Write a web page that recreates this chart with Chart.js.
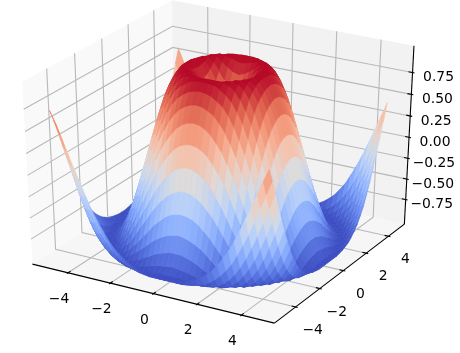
<!DOCTYPE html>
<html>
<head>
<meta charset="utf-8">
<style>html,body{margin:0;padding:0;background:#fff}</style>
<script src="https://cdn.jsdelivr.net/npm/chart.js@4/dist/chart.umd.min.js"></script>
</head>
<body>
<canvas id="surfaceChart" width="460" height="353"></canvas>
<script>
// grid of the surface, same values on both x and y
var gridValues = [-5,-4.75,-4.5,-4.25,-4,-3.75,-3.5,-3.25,-3,-2.75,-2.5,-2.25,-2,-1.75,-1.5,-1.25,-1,-0.75,-0.5,-0.25,0,0.25,0.5,0.75,1,1.25,1.5,1.75,2,2.25,2.5,2.75,3,3.25,3.5,3.75,4,4.25,4.5,4.75];
// surface height: row i, column j-i, steps of 0.25 from the centre (the surface looks the same in all 4 quadrants)
var zRows = [
[0,.25,.48,.68,.84,.95,1,.98,.91,.78,.6,.38,.14,-.11,-.35,-.57,-.76,-.89,-.98,-1,-.96],
[.35,.53,.71,.86,.96,1,.98,.9,.77,.59,.37,.13,-.12,-.36,-.58,-.76,-.9,-.98,-1,-.96],
[.65,.78,.9,.97,1,.97,.88,.74,.56,.34,.1,-.15,-.38,-.6,-.78,-.91,-.98,-1,-.95],
[.87,.95,.99,.99,.94,.84,.7,.51,.29,.05,-.19,-.42,-.63,-.8,-.92,-.99,-1,-.94],
[.99,1,.97,.9,.79,.63,.43,.21,-.02,-.26,-.48,-.67,-.83,-.94,-.99,-.99,-.93],
[.98,.93,.84,.71,.54,.34,.12,-.11,-.33,-.54,-.72,-.87,-.96,-1,-.98,-.9],
[.85,.74,.6,.42,.22,.01,-.21,-.42,-.62,-.78,-.9,-.98,-1,-.96,-.87],
[.62,.46,.29,.09,-.12,-.33,-.52,-.7,-.84,-.94,-.99,-.99,-.94,-.83],
[.31,.13,-.06,-.26,-.45,-.62,-.78,-.89,-.97,-1,-.98,-.9,-.78],
[-.04,-.22,-.4,-.57,-.72,-.85,-.94,-.99,-1,-.95,-.85,-.72],
[-.38,-.54,-.69,-.82,-.92,-.98,-1,-.98,-.91,-.79,-.64],
[-.68,-.8,-.9,-.97,-1,-.99,-.94,-.85,-.71,-.54],
[-.89,-.96,-.99,-1,-.96,-.88,-.77,-.62,-.44],
[-.99,-1,-.97,-.9,-.8,-.67,-.5,-.32],
[-.97,-.91,-.82,-.7,-.55,-.37,-.18],
[-.83,-.72,-.58,-.41,-.23,-.03],
[-.59,-.43,-.26,-.07,.12],
[-.27,-.09,.09,.27],
[.08,.26,.43],
[.43,.58],
[.71]
];
var xTicks = [-4,-2,0,2,4];
var yTicks = [-4,-2,0,2,4];
var zTicks = [-0.75,-0.5,-0.25,0,0.25,0.5,0.75];
var zTickLabels = ['\u22120.75','\u22120.50','\u22120.25','0.00','0.25','0.50','0.75'];
var coolwarm = [[59,76,192],[98,130,234],[141,176,254],[184,208,249],[221,220,220],[244,196,174],[244,152,122],[222,97,77],[180,4,38]];

var xLim = [-5.4875,5.2375], yLim = [-5.4875,5.2375], zLim = [-1.01,1.01];
var boxLo = -1/48, boxHi = 49/48;

function zAt(xv,yv){
    let a=Math.abs(xv)*4, b=Math.abs(yv)*4;
    let i=Math.min(a,b), j=Math.max(a,b);
    return zRows[i][j-i];
}
function ux(v){return (v-xLim[0])/(xLim[1]-xLim[0]);}
function uy(v){return (v-yLim[0])/(yLim[1]-yLim[0]);}
function uz(v){return (v-zLim[0])/(zLim[1]-zLim[0]);}

// camera of a 3d axes, elev 30 azim -60 dist 10
var dist = 10;
var el = 30*Math.PI/180, az = -60*Math.PI/180;
var nv = [Math.cos(el)*Math.cos(az),Math.cos(el)*Math.sin(az),Math.sin(el)];
var uv = [-nv[1],nv[0],0];
var ulen = Math.hypot(uv[0],uv[1]);
uv = [uv[0]/ulen,uv[1]/ulen,0];
var vv = [nv[1]*uv[2]-nv[2]*uv[1],nv[2]*uv[0]-nv[0]*uv[2],nv[0]*uv[1]-nv[1]*uv[0]];

function dot(a,b){return a[0]*b[0]+a[1]*b[1]+a[2]*b[2];}
function depth(p){return dist-dot(nv,[p[0]-.5,p[1]-.5,p[2]-.5]);}
function project(p){
    let d=[p[0]-.5,p[1]-.5,p[2]-.5];
    let w=dist-dot(nv,d);
    return {x:dot(uv,d)/w,y:dot(vv,d)/w};
}

function colorFor(z){
    let t=Math.max(0,Math.min(1,(z+1)/2))*(coolwarm.length-1);
    let k=Math.min(Math.floor(t),coolwarm.length-2);
    let f=t-k;
    let c=[0,1,2].map(n=>Math.round(coolwarm[k][n]+(coolwarm[k+1][n]-coolwarm[k][n])*f));
    return 'rgb('+c.join(',')+')';
}

var layers = [];
function addPane(points,color){
    let data=points.concat([points[0]]).map(project);
    layers.push({data:data,showLine:true,fill:'shape',backgroundColor:color,borderColor:color,borderWidth:0,pointRadius:0});
}
function addLine(points,color,width){
    layers.push({data:points.map(project),showLine:true,fill:false,borderColor:color,borderWidth:width,pointRadius:0});
}

// panes
addPane([[boxLo,boxLo,boxLo],[boxLo,boxHi,boxLo],[boxLo,boxHi,boxHi],[boxLo,boxLo,boxHi]],'#f9f9f9');
addPane([[boxLo,boxHi,boxLo],[boxHi,boxHi,boxLo],[boxHi,boxHi,boxHi],[boxLo,boxHi,boxHi]],'#f2f2f2');
addPane([[boxLo,boxLo,boxLo],[boxHi,boxLo,boxLo],[boxHi,boxHi,boxLo],[boxLo,boxHi,boxLo]],'#f6f6f6');

// grid lines
var gridColor = '#b8b8b8';
xTicks.forEach(v=>{
    let a=ux(v);
    addLine([[a,boxLo,boxLo],[a,boxHi,boxLo],[a,boxHi,boxHi]],gridColor,1.1);
});
yTicks.forEach(v=>{
    let a=uy(v);
    addLine([[boxHi,a,boxLo],[boxLo,a,boxLo],[boxLo,a,boxHi]],gridColor,1.1);
});
zTicks.forEach(v=>{
    let a=uz(v);
    addLine([[boxLo,boxLo,a],[boxLo,boxHi,a],[boxHi,boxHi,a]],gridColor,1.1);
});

// axis lines and tick marks
addLine([[boxLo,boxLo,boxLo],[boxHi,boxLo,boxLo]],'#000',1.1);
addLine([[boxHi,boxLo,boxLo],[boxHi,boxHi,boxLo]],'#000',1.1);
addLine([[boxHi,boxHi,boxLo],[boxHi,boxHi,boxHi]],'#000',1.1);
var tickIn = 0.2/12, tickOut = 0.1/12;
xTicks.forEach(v=>{
    let a=ux(v);
    addLine([[a,boxLo+tickIn,boxLo],[a,boxLo-tickOut,boxLo]],'#000',1.1);
});
yTicks.forEach(v=>{
    let a=uy(v);
    addLine([[boxHi-tickIn,a,boxLo],[boxHi+tickOut,a,boxLo]],'#000',1.1);
});
zTicks.forEach(v=>{
    let a=uz(v);
    addLine([[boxHi-tickIn,boxHi,a],[boxHi+tickOut,boxHi,a]],'#000',1.1);
});

// surface quads, far ones first
var quads = [];
for(let i=0;i<gridValues.length-1;i++){
    for(let j=0;j<gridValues.length-1;j++){
        let corners=[[i,j],[i+1,j],[i+1,j+1],[i,j+1]];
        let zs=corners.map(c=>zAt(gridValues[c[0]],gridValues[c[1]]));
        let pts=corners.map((c,n)=>[ux(gridValues[c[0]]),uy(gridValues[c[1]]),uz(zs[n])]);
        quads.push({pts:pts,
            mean:(zs[0]+zs[1]+zs[2]+zs[3])/4,
            d:(depth(pts[0])+depth(pts[1])+depth(pts[2])+depth(pts[3]))/4});
    }
}
quads.sort((a,b)=>b.d-a.d);
quads.forEach(q=>{
    let c=colorFor(q.mean);
    layers.push({data:q.pts.concat([q.pts[0]]).map(project),showLine:true,fill:'shape',backgroundColor:c,borderColor:c,borderWidth:0.7,pointRadius:0});
});

// chart.js paints the first dataset last
layers.reverse();

var pxScaleX = 2681, pxScaleY = 1998, originX = 221.4, originY = 156;

var tickLabels = {
    id:'tickLabels',
    afterDatasetsDraw(chart){
        let c=chart.ctx, sx=chart.scales.x, sy=chart.scales.y;
        c.save();
        c.fillStyle='#000';
        c.font='13.9px "DejaVu Sans"';
        c.textAlign='center';
        c.textBaseline='middle';
        function put(p,text,dx,dy){
            let q=project(p);
            c.fillText(text,sx.getPixelForValue(q.x)+dx,sy.getPixelForValue(q.y)+dy);
        }
        xTicks.forEach(v=>put([ux(v),boxLo,boxLo],String(v).replace('-','\u2212'),-9,26.5));
        yTicks.forEach(v=>put([boxHi,uy(v),boxLo],String(v).replace('-','\u2212'),17,23.5));
        zTicks.forEach((v,i)=>put([boxHi,boxHi,uz(v)],zTickLabels[i],26,5));
        c.restore();
    }
};

var surfaceChart = new Chart(document.getElementById('surfaceChart'), {
    type:'scatter',
    data:{datasets:layers},
    options:{
        responsive:false,
        animation:false,
        events:[],
        layout:{padding:0},
        elements:{line:{tension:0}},
        scales:{
            x:{type:'linear',display:false,min:-originX/pxScaleX,max:(460-originX)/pxScaleX},
            y:{type:'linear',display:false,min:-(353-originY)/pxScaleY,max:originY/pxScaleY}
        },
        plugins:{legend:{display:false},tooltip:{enabled:false}}
    },
    plugins:[tickLabels]
});
</script>
</body>
</html>
